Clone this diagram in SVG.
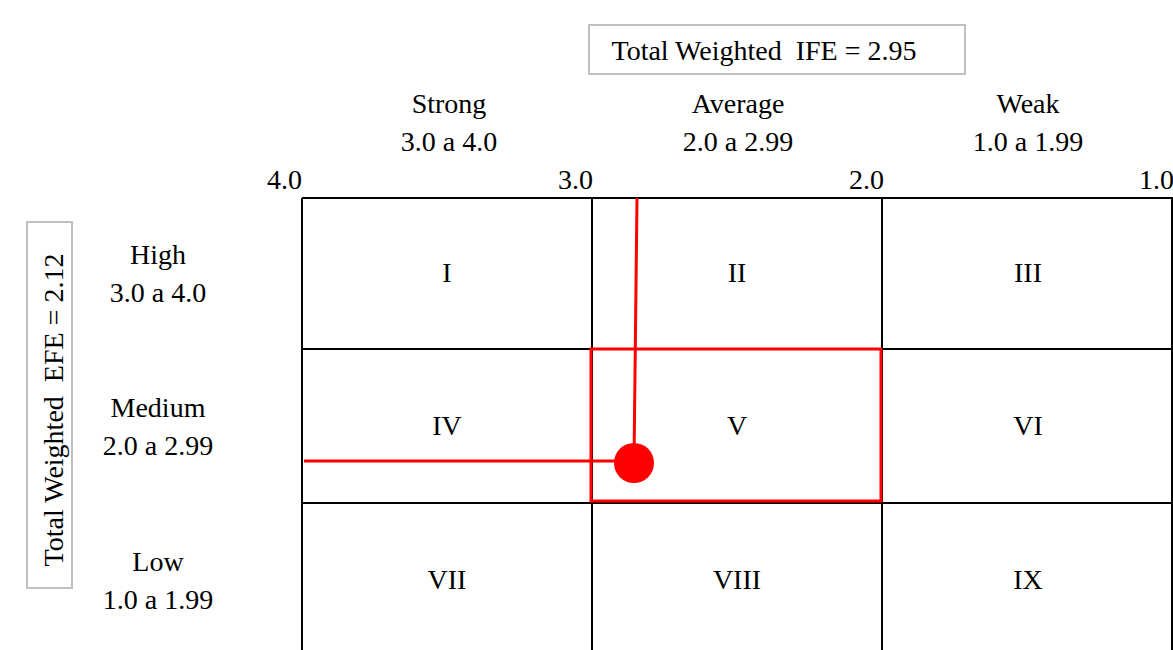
<svg xmlns="http://www.w3.org/2000/svg" width="1173" height="650" viewBox="0 0 1173 650">
<style>
text{font-family:"Liberation Serif","Times New Roman",serif;font-size:28px;fill:#000}
.c{text-anchor:middle}
.r{text-anchor:end}
.grid{stroke:#000;stroke-width:2;fill:none}
.box{fill:#fff;stroke:#bfbfbf;stroke-width:2}
.red{stroke:#ff0000;stroke-width:3;fill:none}
</style>
<rect width="1173" height="650" fill="#fff"/>
<g id="ife-box">
<rect class="box" x="589" y="25" width="376" height="49"/>
<text class="c" x="764" y="60" xml:space="preserve">Total Weighted  IFE = 2.95</text>
</g>
<g id="efe-box">
<rect class="box" x="27" y="222" width="45" height="366"/>
<text class="c" transform="translate(63,410) rotate(-90)" xml:space="preserve">Total Weighted  EFE = 2.12</text>
</g>
<g id="col-headers">
<text class="c" x="449" y="113">Strong</text>
<text class="c" x="449" y="151">3.0 a 4.0</text>
<text class="c" x="738" y="113">Average</text>
<text class="c" x="738" y="151">2.0 a 2.99</text>
<text class="c" x="1028" y="113">Weak</text>
<text class="c" x="1028" y="151">1.0 a 1.99</text>
<text class="r" x="302" y="189">4.0</text>
<text class="r" x="593" y="189">3.0</text>
<text class="r" x="884" y="189">2.0</text>
<text class="r" x="1174" y="189">1.0</text>
</g>
<g id="row-headers">
<text class="c" x="158" y="264">High</text>
<text class="c" x="158" y="302">3.0 a 4.0</text>
<text class="c" x="158" y="417">Medium</text>
<text class="c" x="158" y="455">2.0 a 2.99</text>
<text class="c" x="158" y="571">Low</text>
<text class="c" x="158" y="609">1.0 a 1.99</text>
</g>
<g id="grid">
<path class="grid" d="M302,198H1173M302,349H1173M302,503H1173M302,198V660M592,198V660M882,198V660M1172,198V660"/>
</g>
<g id="cells">
<text class="c" x="447" y="282">I</text>
<text class="c" x="737" y="282">II</text>
<text class="c" x="1028" y="282">III</text>
<text class="c" x="447" y="435">IV</text>
<text class="c" x="737" y="435">V</text>
<text class="c" x="1028" y="435">VI</text>
<text class="c" x="447" y="589">VII</text>
<text class="c" x="737" y="589">VIII</text>
<text class="c" x="1028" y="589">IX</text>
</g>
<g id="connectors">
<rect class="red" x="591" y="349" width="290" height="152"/>
<path class="red" d="M637,198L634,462M304,461H620"/>
<circle cx="634" cy="463" r="20" fill="#ff0000"/>
</g>
</svg>
